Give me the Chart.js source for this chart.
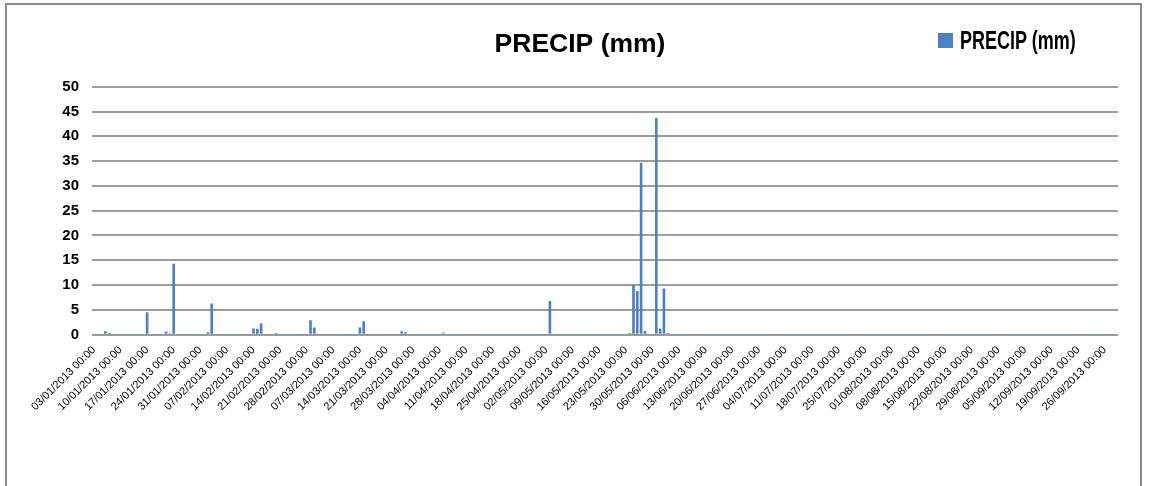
<!DOCTYPE html>
<html>
<head>
<meta charset="utf-8">
<script src="https://cdn.jsdelivr.net/npm/chart.js@4/dist/chart.umd.min.js"></script>
<style>
  html, body { margin: 0; padding: 0; background: #ffffff; }
  #wrap { position: relative; width: 1151px; height: 486px; overflow: hidden; background: #fff; }
  #frame { position: absolute; left: 5px; top: 3px; width: 1137px; height: 520px; border: 2px solid #8a8a8a; box-sizing: border-box; }
  canvas { position: absolute; left: 0; top: 0; }
  #legend { position: absolute; left: 938px; top: 25px; height: 30px; display: flex; align-items: center; }
  #legend .sw { width: 15px; height: 15px; background: #4f81bd; margin-right: 7px; flex: none; }
  #legend .tx { font-family: "Liberation Sans", Arial, sans-serif; font-weight: bold; font-size: 25px; color: #000; transform: scaleX(0.72); transform-origin: left center; white-space: nowrap; }
</style>
</head>
<body>
<div id="wrap">
  <div id="frame"></div>
  <canvas id="c" width="1151" height="486"></canvas>
  <div id="legend"><div class="sw"></div><div class="tx">PRECIP (mm)</div></div>
</div>
<script>
// ---- data ----
const startDate = "03/01/2013";
const dayCount = 270;                 // daily categories, 03/01/2013 .. 29/09/2013
const labelEvery = 7;                 // tick label every 7 days
const yTicks = [0, 5, 10, 15, 20, 25, 30, 35, 40, 45, 50];
const wetDates = [
  "06/01/2013", "07/01/2013", "17/01/2013", "22/01/2013", "23/01/2013", "24/01/2013",
  "02/02/2013", "03/02/2013", "14/02/2013", "15/02/2013", "16/02/2013", "20/02/2013",
  "01/03/2013", "02/03/2013", "14/03/2013", "15/03/2013", "25/03/2013", "26/03/2013",
  "05/04/2013", "03/05/2013",
  "24/05/2013", "25/05/2013", "26/05/2013", "27/05/2013", "28/05/2013",
  "31/05/2013", "01/06/2013", "02/06/2013", "03/06/2013"
];
const wetValues = [
  0.6, 0.1, 4.4, 0.55, 0.2, 14.2,
  0.4, 6.2, 1.15, 1.1, 2.2, 0.1,
  2.8, 1.35, 1.35, 2.6, 0.6, 0.4,
  0.3, 6.7,
  0.15, 10.0, 8.7, 34.6, 0.65,
  43.7, 1.15, 9.2, 0.15
];
const seriesName = "PRECIP (mm)";
const titleText = "PRECIP (mm)";

// ---- build categories and series ----
function pad(n) { return (n < 10 ? "0" : "") + n; }
const [sd, sm, sy] = startDate.split("/").map(Number);
const categories = [];
for (let k = 0; k < dayCount; k++) {
  const d = new Date(Date.UTC(sy, sm - 1, sd + k));
  categories.push(pad(d.getUTCDate()) + "/" + pad(d.getUTCMonth() + 1) + "/" + d.getUTCFullYear() + " 00:00");
}
const precip = categories.map(lbl => {
  const i = wetDates.indexOf(lbl.slice(0, 10));
  return i >= 0 ? wetValues[i] : 0;
});

const ctx = document.getElementById("c").getContext("2d");
new Chart(ctx, {
  type: "bar",
  data: {
    labels: categories,
    datasets: [{
      label: seriesName,
      data: precip,
      backgroundColor: "#4f81bd",
      borderWidth: 0,
      barThickness: 2
    }]
  },
  options: {
    responsive: false,
    animation: false,
    devicePixelRatio: 1,
    layout: { padding: { left: 42, right: 33, top: 0, bottom: 0 } },
    plugins: {
      legend: { display: false },
      tooltip: { enabled: false },
      title: {
        display: true,
        text: titleText,
        color: "#000",
        font: { family: "'Liberation Sans', Arial, sans-serif", size: 26.5, weight: "bold", lineHeight: 1.2 },
        padding: { top: 29, bottom: 26 }
      }
    },
    scales: {
      x: {
        offset: true,
        grid: { display: false },
        border: { display: false },
        ticks: {
          autoSkip: false,
          minRotation: 45,
          maxRotation: 45,
          padding: 1,
          color: "#000",
          font: { family: "'Liberation Sans', Arial, sans-serif", size: 11 },
          callback: function (v, i) { return i % labelEvery === 0 ? categories[i] : null; }
        },
        afterFit: function (s) { s.height = 486 - 334.5; }
      },
      y: {
        min: yTicks[0],
        max: yTicks[yTicks.length - 1],
        afterBuildTicks: function (s) { s.ticks = yTicks.map(v => ({ value: v })); },
        grid: { color: "#9c9c9c", lineWidth: 2, drawTicks: false },
        border: { display: false },
        ticks: {
          padding: 13,
          color: "#000",
          font: { family: "'Liberation Sans', Arial, sans-serif", size: 15, weight: "bold" }
        },
        afterFit: function (s) { s.width = 50; }
      }
    }
  }
});
</script>
</body>
</html>
